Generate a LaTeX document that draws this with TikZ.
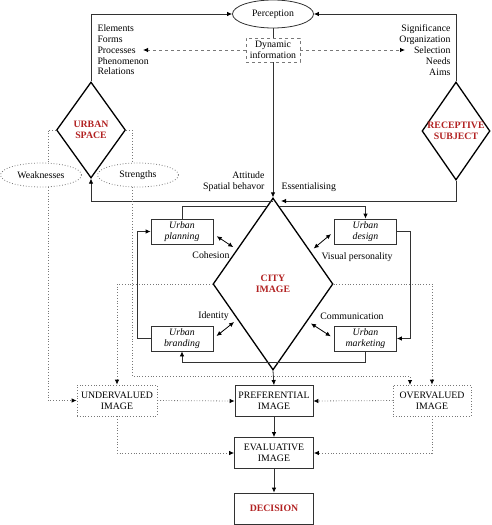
\documentclass[tikz,border=0pt]{standalone}
\usepackage{fontspec}
\setmainfont{Liberation Serif}
\usetikzlibrary{shapes,shapes.geometric,positioning,arrows.meta}
\definecolor{titlered}{RGB}{178,34,34}
\definecolor{linegray}{RGB}{50,50,50}
\definecolor{dotgray}{RGB}{120,120,120}
\tikzstyle{every node}=[font=\fontsize{9.8}{10.8}\selectfont,text=black]
\tikzstyle{box}=[draw=linegray,line width=0.8pt,align=center,inner sep=1pt,minimum width=78,minimum height=31]
\tikzstyle{dotbox}=[box,draw=dotgray,dotted]
\tikzstyle{dashbox}=[draw=dotgray,dashed,line width=0.8pt,align=center,inner sep=1pt,minimum width=54,minimum height=24]
\tikzstyle{urbbox}=[box,minimum width=62,minimum height=25,font=\fontsize{9.8}{10.8}\selectfont\itshape]
\tikzstyle{diam}=[diamond,draw=black,line width=1.3pt,inner sep=0pt]
\tikzstyle{title}=[align=center,text=titlered,font=\fontsize{9.8}{10.8}\selectfont\bfseries]
\tikzstyle{oval}=[ellipse,draw=dotgray,dotted,line width=0.8pt,minimum width=81,minimum height=24,inner sep=0pt]
\tikzstyle{plain}=[draw=linegray,line width=0.8pt]
\tikzstyle{arr}=[plain,-{Latex[length=5pt,width=4.5pt,color=black]}]
\tikzstyle{dblarr}=[draw=black,line width=0.8pt,{Latex[length=5pt,width=4.5pt]}-{Latex[length=5pt,width=4.5pt]},shorten <=4pt,shorten >=4pt]
\tikzstyle{dotline}=[draw=dotgray,dotted,line width=0.8pt]
\tikzstyle{dotarr}=[dotline,-{Latex[length=5pt,width=4.5pt,color=black]}]
\tikzstyle{dasharr}=[draw=dotgray,dashed,line width=0.8pt,-{Latex[length=5pt,width=4.5pt,color=black]}]

\begin{document}
\begin{tikzpicture}[x=1pt,y=-1pt]
  \useasboundingbox (0,0) rectangle (492,525);
  % top: perception and the two poles
  \node [ellipse,draw=linegray,line width=0.8pt,minimum width=81,minimum height=28,inner sep=0pt] (perc) at (273,14) {Perception};
  \node [dashbox] (dyn) at (273,50) {Dynamic\\information};
  \node [diam,minimum width=69,minimum height=96] (us) at (91,130) {};
  \node [title] (ustxt) at (us) {URBAN\\SPACE};
  \node [diam,minimum width=68,minimum height=98] (rs) at (456,131) {};
  \node [title] (rstxt) at (rs) {RECEPTIVE\\SUBJECT};
  \node [anchor=west,align=left] (elem) at (94,50) {Elements\\Forms\\Processes\\Phenomenon\\Relations};
  \node [anchor=east,align=right] (sign) at (454,50) {Significance\\Organization\\Selection\\Needs\\Aims};
  \node [oval] (weak) at (41,175) {Weaknesses};
  \node [oval] (strg) at (138,175) {Strengths};
  \coordinate (elemtip) at (143,50);
  \coordinate (signtip) at (405,50);
  % city image and the four urban tools
  \node [diam,minimum width=120,minimum height=172] (ci) at (273,284) {};
  \node [title] (citxt) at (ci) {CITY\\IMAGE};
  \node [urbbox] (up) at (182,231.5) {Urban\\planning};
  \node [urbbox] (ud) at (365.5,231.5) {Urban\\design};
  \node [urbbox] (ub) at (182,338.5) {Urban\\branding};
  \node [urbbox] (um) at (365.5,338.5) {Urban\\marketing};
  \node [anchor=east,align=right] (att) at (268,182) {Attitude\\Spatial behavor};
  \node [anchor=west] (ess) at (278,187) {Essentialising};
  \node (coh) at (211,255) {Cohesion};
  \node (idt) at (213.5,316) {Identity};
  \node (vis) at (357,257) {Visual personality};
  \node (com) at (352,316) {Communication};
  \coordinate (jn) at (273,201);
  \coordinate (esstip) at (281,201);
  \path (ci.north) -- (ci.west) coordinate[pos=0.1] (cil) coordinate[pos=0.6] (ce1);
  \path (ci.north) -- (ci.east) coordinate[pos=0.1] (cir) coordinate[pos=0.62] (ce3);
  \path (ci.west) -- (ci.south) coordinate[pos=0.41] (ce2);
  \path (ci.east) -- (ci.south) coordinate[pos=0.43] (ce4);
  % bottom row
  \node [dotbox,minimum width=80] (under) at (117,400.5) {UNDERVALUED\\IMAGE};
  \node [box] (pref) at (274,401) {PREFERENTIAL\\IMAGE};
  \node [dotbox] (over) at (432,400.5) {OVERVALUED\\IMAGE};
  \node [box,minimum width=79] (eval) at (274,453) {EVALUATIVE\\IMAGE};
  \node [box,minimum width=79,text=titlered,font=\fontsize{9.8}{10.8}\selectfont\bfseries] (dec) at (274,508.5) {DECISION};
  \coordinate (lvl) at (0,376);
  \coordinate (ovin) at (410,385);

  % connectors
  \draw [arr] (us.north) |- (perc.west);
  \draw [arr] (rs.north) |- (perc.east);
  \draw [plain] (perc.south) -- (dyn.north);
  \draw [arr] (dyn.south) -- (ci.north);
  \draw [dasharr] (dyn.west) -- (elemtip);
  \draw [dasharr] (dyn.east) -- (signtip);
  \draw [arr] (jn) -| (us.south);
  \draw [arr] (rs.south) |- (esstip);
  \draw [arr] (cir) -| (ud.north);
  \draw [plain] (up.north) |- (cil);
  \draw [arr] (ud.east) -- ++(13,0) |- (um.east);
  \draw [arr] (um.south) -- ++(0,11) -| (ub.south);
  \draw [arr] (ub.west) -- ++(-13,0) |- (up.west);
  \draw [dblarr] (up.east) ++(0,2.5) -- (ce1);
  \draw [dblarr] (ub.east) -- (ce2);
  \draw [dblarr] (ud.west) -- (ce3);
  \draw [dblarr] (um.west) -- (ce4);
  \draw [dotline] (us.west) -| ([xshift=7pt]weak.north);
  \draw [dotline] (us.east) -| ([xshift=-6pt]strg.north);
  \draw [dotarr] ([xshift=7pt]weak.south) |- (under.west);
  \draw [dotarr] ([xshift=-6pt]strg.south) |- (ovin |- lvl) -- (ovin);
  \draw [dotarr] (ci.west) -| (under.north);
  \draw [dotarr] (ci.east) -| (over.north);
  \draw [arr] (ci.south) -- (pref.north);
  \draw [dotarr] (under.east) -- (pref.west);
  \draw [dotarr] (over.west) -- (pref.east);
  \draw [dotarr] (under.south) |- (eval.west);
  \draw [dotarr] (over.south) |- (eval.east);
  \draw [arr] (pref) -- (eval);
  \draw [arr] (eval) -- (dec);
\end{tikzpicture}
\end{document}
